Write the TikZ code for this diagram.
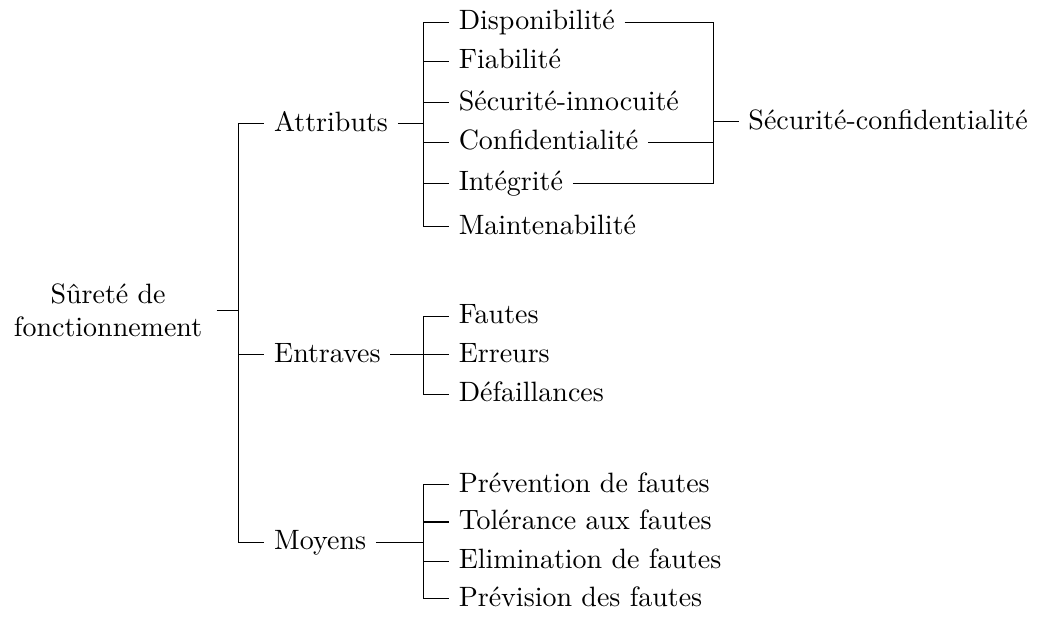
\documentclass[tikz,border=0pt]{standalone}
\usepackage{tikz}
\tikzset{leaf/.style={anchor=west,text height=1.5ex,text depth=.25ex}}

\begin{document}
\begin{tikzpicture}[scale=1.000000,x=0.3545pt,y=-0.3545pt]
\filldraw[color=white] (0.000000, 0.000000) rectangle (1037.000000, 619.000000);
% Drawing nodes
% Level 0: root
\node[align=center,inner xsep=5pt] (root) at (104.500000, 312.000000) {Sûreté de\\fonctionnement};
% Level 1: Attributs Entraves Moyens
\node[leaf] (attr) at (262.000000, 124.000000) {Attributs};
\node[leaf] (entr) at (262.000000, 357.000000) {Entraves};
\node[leaf] (moy) at (262.000000, 546.000000) {Moyens};
% Level 2: under Attributs
\node[leaf] (dispo) at (448.000000, 22.000000) {Disponibilité};
\node[leaf] (fiab) at (448.000000, 61.000000) {Fiabilité};
\node[leaf] (secinn) at (448.000000, 103.000000) {Sécurité-innocuité};
\node[leaf] (conf) at (448.000000, 143.000000) {Confidentialité};
\node[leaf] (integ) at (448.000000, 184.000000) {Intégrité};
\node[leaf] (maint) at (448.000000, 228.000000) {Maintenabilité};
% Level 2: under Entraves
\node[leaf] (fautes) at (448.000000, 318.000000) {Fautes};
\node[leaf] (err) at (448.000000, 357.000000) {Erreurs};
\node[leaf] (defa) at (448.000000, 397.000000) {Défaillances};
% Level 2: under Moyens
\node[leaf] (prev) at (448.000000, 488.000000) {Prévention de fautes};
\node[leaf] (tol) at (448.000000, 525.500000) {Tolérance aux fautes};
\node[leaf] (elim) at (448.000000, 565.000000) {Elimination de fautes};
\node[leaf] (previs) at (448.000000, 603.000000) {Prévision des fautes};
% Level 3: grouping on the right
\node[leaf] (secconf) at (740.000000, 122.000000) {Sécurité-confidentialité};
% Done with nodes; drawing junctions
\coordinate (jroot) at (236.000000, 312.000000);
\coordinate (jattr) at (422.000000, 124.000000);
\coordinate (jentr) at (422.000000, 357.000000);
\coordinate (jmoy) at (422.000000, 546.000000);
\coordinate (jsec) at (715.000000, 122.000000);
% Done with junctions; drawing edges
\draw (root.east) -- (jroot);
\draw (jroot) |- (attr.west);
\draw (jroot) |- (entr.west);
\draw (jroot) |- (moy.west);
% Attributs
\draw (attr.east) -- (jattr);
\foreach \n in {dispo,fiab,secinn,conf,integ,maint}
  \draw (jattr) |- (\n.west);
% Entraves
\draw (entr.east) -- (jentr);
\foreach \n in {fautes,err,defa}
  \draw (jentr) |- (\n.west);
% Moyens
\draw (moy.east) -- (jmoy);
\foreach \n in {prev,tol,elim,previs}
  \draw (jmoy) |- (\n.west);
% Securite-confidentialite
\foreach \n in {dispo,conf,integ}
  \draw (\n.east) -| (jsec);
\draw (jsec) -- (secconf.west);
% Done with edges
\end{tikzpicture}
\end{document}
